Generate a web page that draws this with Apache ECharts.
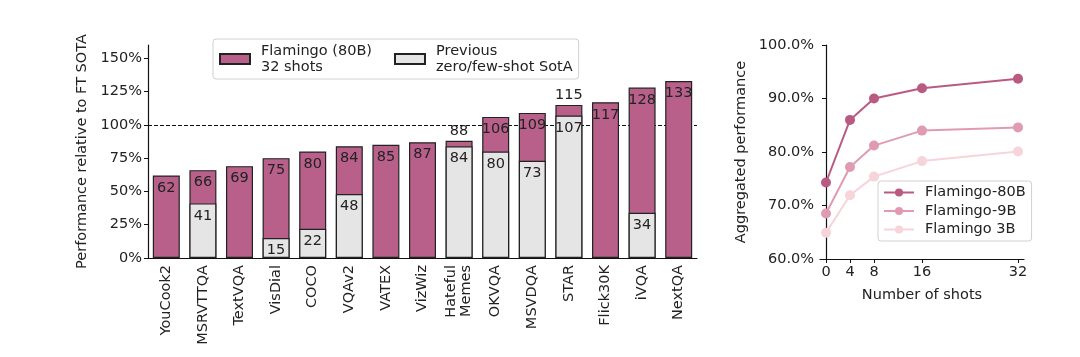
<!DOCTYPE html>
<html>
<head>
<meta charset="utf-8">
<script src="https://cdn.jsdelivr.net/npm/echarts@6/dist/echarts.min.js"></script>
<style>
html,body{margin:0;padding:0;background:#fff;}
#chart{width:1080px;height:357px;}
</style>
</head>
<body>
<div id="chart"></div>
<script>
// ---- data ----
const categories = ['YouCook2','MSRVTTQA','TextVQA','VisDial','COCO','VQAv2','VATEX','VizWiz','Hateful\nMemes','OKVQA','MSVDQA','STAR','Flick30K','iVQA','NextQA'];
const flamingo80B = [62,66,69,75,80,84,85,87,88,106,109,115,117,128,133];
const previousSota = [null,41,null,15,22,48,null,null,84,80,73,107,null,34,null];
const labelAbove = ['Hateful\nMemes','STAR'];
const leftTicks = [0,25,50,75,100,125,150];

const shots = [0,4,8,16,32];
const shotTicks = [0,4,8,16,32];
const agg80B = [74.3,86.0,90.0,91.9,93.7];
const agg9B = [68.5,77.2,81.2,84.0,84.6];
const agg3B = [64.9,71.9,75.4,78.3,80.1];

const FONT = 'DejaVu Sans';
const FS = 14.5;
const TXT = '#222';
const PINK = '#b9608a';
const GREY = '#e5e5e5';
const EDGE = '#222';

const chart = echarts.init(document.getElementById('chart'), null, {renderer:'canvas'});

const flamData = flamingo80B.map((v,i)=>{
  const d = {value:v};
  if (labelAbove.includes(categories[i])) d.label = {position:'top', distance:2};
  return d;
});

const option = {
  backgroundColor:'#fff',
  animation:false,
  textStyle:{fontFamily:FONT, color:TXT},
  grid:[
    {left:148, right:383, top:45, bottom:99, containLabel:false},
    {left:820, right:56, top:45, bottom:98, containLabel:false}
  ],
  legend:[
    {
      left:213, top:39,
      data:[{name:'Flamingo (80B)\n32 shots', icon:'rect'},{name:'Previous\nzero/few-shot SotA', icon:'rect'}],
      orient:'horizontal',
      itemWidth:30, itemHeight:10, itemGap:22,
      padding:[4,6,4,6],
      borderColor:'#d0d0d0', borderWidth:1, borderRadius:3,
      textStyle:{fontFamily:FONT, fontSize:FS, color:TXT, lineHeight:16, padding:[0,0,0,6]},
      selectedMode:false
    },
    {
      left:878, top:181,
      orient:'vertical',
      data:['Flamingo-80B','Flamingo-9B','Flamingo 3B'],
      itemWidth:30, itemHeight:10, itemGap:3.5,
      padding:[4,6,4,5],
      borderColor:'#d0d0d0', borderWidth:1, borderRadius:3,
      textStyle:{fontFamily:FONT, fontSize:FS, color:TXT, padding:[0,0,0,6]},
      selectedMode:false
    }
  ],
  xAxis:[
    {
      type:'category', gridIndex:0, data:categories,
      axisLine:{lineStyle:{color:'#111', width:1.2}},
      axisTick:{alignWithLabel:true, length:4, lineStyle:{color:'#111'}},
      axisLabel:{rotate:90, fontFamily:FONT, fontSize:FS, color:TXT, margin:7, lineHeight:15, interval:0},
      splitLine:{show:false}
    },
    {
      type:'value', gridIndex:1, min:-1, max:33,
      axisLine:{onZero:false, lineStyle:{color:'#111', width:1.2}},
      axisTick:{length:4, lineStyle:{color:'#111'}, customValues:shotTicks},
      axisLabel:{fontFamily:FONT, fontSize:FS, color:TXT, margin:6, customValues:shotTicks},
      splitLine:{show:false},
      name:'Number of shots', nameLocation:'middle', nameGap:29,
      nameTextStyle:{fontFamily:FONT, fontSize:FS, color:TXT}
    }
  ],
  yAxis:[
    {
      type:'value', gridIndex:0, min:0, max:160,
      axisLine:{show:true, lineStyle:{color:'#111', width:1.2}},
      axisTick:{show:true, length:4, lineStyle:{color:'#111'}, customValues:leftTicks},
      axisLabel:{fontFamily:FONT, fontSize:FS, color:TXT, margin:6, customValues:leftTicks, formatter:v=>v+'%'},
      splitLine:{show:false},
      name:'Performance relative to FT SOTA', nameLocation:'middle', nameGap:55,
      nameTextStyle:{fontFamily:FONT, fontSize:FS, color:TXT}
    },
    {
      type:'value', gridIndex:1, min:60, max:100, interval:10,
      axisLine:{show:true, lineStyle:{color:'#111', width:1.2}},
      axisTick:{show:true, length:4, lineStyle:{color:'#111'}},
      axisLabel:{fontFamily:FONT, fontSize:FS, color:TXT, margin:6, formatter:v=>v.toFixed(1)+'%'},
      splitLine:{show:false},
      name:'Aggregated performance', nameLocation:'middle', nameGap:71,
      nameTextStyle:{fontFamily:FONT, fontSize:FS, color:TXT}
    }
  ],
  series:[
    {
      name:'Flamingo (80B)\n32 shots', type:'bar', xAxisIndex:0, yAxisIndex:0,
      data:flamData, barWidth:27, barGap:'-100%', z:2,
      itemStyle:{color:PINK, borderColor:EDGE, borderWidth:1.2},
      label:{show:true, position:'insideTop', distance:5, fontFamily:FONT, fontSize:FS, color:TXT},
      markLine:{
        silent:true, symbol:'none', z:1, animation:false,
        label:{show:false},
        lineStyle:{type:[4,2], color:'#111', width:1.1},
        data:[{yAxis:100}]
      }
    },
    {
      name:'Previous\nzero/few-shot SotA', type:'bar', xAxisIndex:0, yAxisIndex:0,
      data:previousSota, barWidth:27, barGap:'-100%', z:3,
      itemStyle:{color:GREY, borderColor:EDGE, borderWidth:1.2},
      label:{show:true, position:'insideTop', distance:5, fontFamily:FONT, fontSize:FS, color:TXT}
    },
    {
      name:'Flamingo-80B', type:'line', xAxisIndex:1, yAxisIndex:1,
      data:shots.map((s,i)=>[s,agg80B[i]]),
      symbol:'circle', symbolSize:10, z:5,
      lineStyle:{color:'#b95a82', width:2},
      itemStyle:{color:'#b95a82'}
    },
    {
      name:'Flamingo-9B', type:'line', xAxisIndex:1, yAxisIndex:1,
      data:shots.map((s,i)=>[s,agg9B[i]]),
      symbol:'circle', symbolSize:10, z:4,
      lineStyle:{color:'#e19bb0', width:2},
      itemStyle:{color:'#e19bb0'}
    },
    {
      name:'Flamingo 3B', type:'line', xAxisIndex:1, yAxisIndex:1,
      data:shots.map((s,i)=>[s,agg3B[i]]),
      symbol:'circle', symbolSize:10, z:3,
      lineStyle:{color:'#f6d4da', width:2},
      itemStyle:{color:'#f6d4da'}
    }
  ]
};
chart.setOption(option);
</script>
</body>
</html>
